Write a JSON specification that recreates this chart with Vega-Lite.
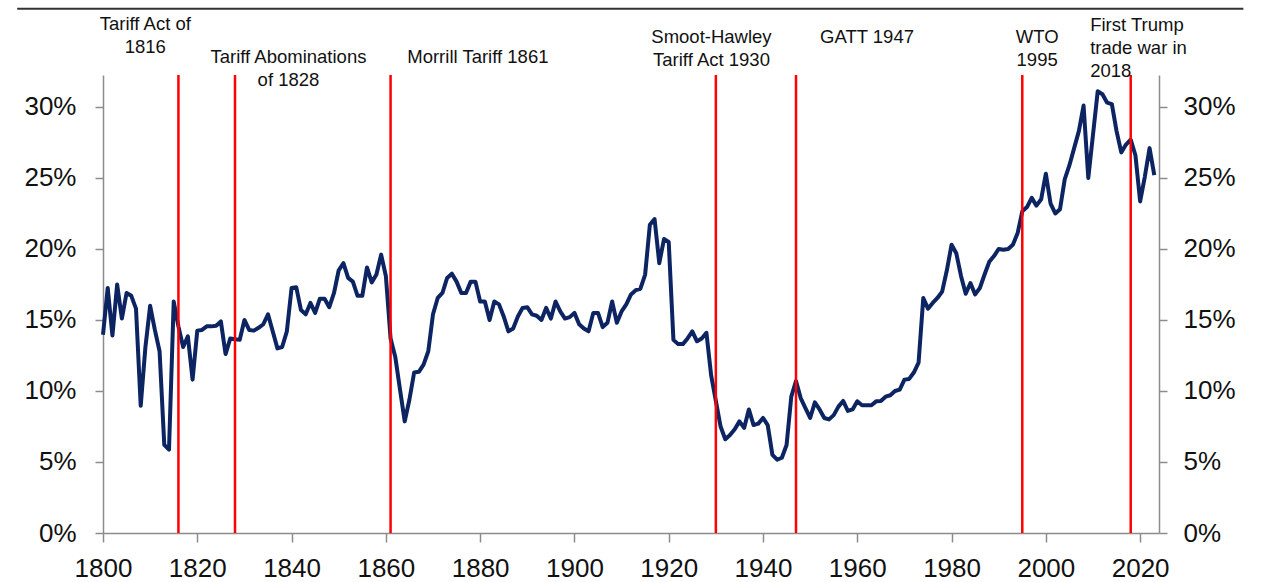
{
  "$schema": "https://vega.github.io/schema/vega-lite/v6.json",
  "width": 1056,
  "height": 458,
  "autosize": {"type": "none"},
  "padding": {"left": 103, "top": 75, "right": 107, "bottom": 49},
  "background": "white",
  "config": {
    "view": {"stroke": null},
    "font": "Liberation Sans",
    "axis": {
      "grid": false,
      "domainColor": "#8c8c8c",
      "domainWidth": 1.5,
      "tickColor": "#8c8c8c",
      "tickWidth": 1.5,
      "labelFont": "Liberation Sans",
      "labelFontSize": 26,
      "labelColor": "#111111",
      "labelFlush": false,
      "labelOverlap": false,
      "labelBound": false
    }
  },
  "datasets": {
    "series": [
      {"year":1800,"share":0.1396},{"year":1801,"share":0.1725},{"year":1802,"share":0.139},{"year":1803,"share":0.175},{"year":1804,"share":0.151},
      {"year":1805,"share":0.169},{"year":1806,"share":0.167},{"year":1807,"share":0.158},{"year":1808,"share":0.0896},{"year":1809,"share":0.131},
      {"year":1810,"share":0.160},{"year":1811,"share":0.143},{"year":1812,"share":0.128},{"year":1813,"share":0.062},{"year":1814,"share":0.0587},
      {"year":1815,"share":0.163},{"year":1816,"share":0.1455},{"year":1817,"share":0.131},{"year":1818,"share":0.1385},{"year":1819,"share":0.108},
      {"year":1820,"share":0.1425},{"year":1821,"share":0.143},{"year":1822,"share":0.1455},{"year":1823,"share":0.1455},{"year":1824,"share":0.146},
      {"year":1825,"share":0.149},{"year":1826,"share":0.126},{"year":1827,"share":0.137},{"year":1828,"share":0.1365},{"year":1829,"share":0.136},
      {"year":1830,"share":0.150},{"year":1831,"share":0.143},{"year":1832,"share":0.1425},{"year":1833,"share":0.1445},{"year":1834,"share":0.147},
      {"year":1835,"share":0.154},{"year":1836,"share":0.142},{"year":1837,"share":0.130},{"year":1838,"share":0.131},{"year":1839,"share":0.142},
      {"year":1840,"share":0.1725},{"year":1841,"share":0.173},{"year":1842,"share":0.157},{"year":1843,"share":0.154},{"year":1844,"share":0.162},
      {"year":1845,"share":0.155},{"year":1846,"share":0.165},{"year":1847,"share":0.165},{"year":1848,"share":0.159},{"year":1849,"share":0.169},
      {"year":1850,"share":0.185},{"year":1851,"share":0.190},{"year":1852,"share":0.1796},{"year":1853,"share":0.177},{"year":1854,"share":0.167},
      {"year":1855,"share":0.167},{"year":1856,"share":0.187},{"year":1857,"share":0.1765},{"year":1858,"share":0.182},{"year":1859,"share":0.196},
      {"year":1860,"share":0.181},{"year":1861,"share":0.137},{"year":1862,"share":0.124},{"year":1863,"share":0.101},{"year":1864,"share":0.0786},
      {"year":1865,"share":0.094},{"year":1866,"share":0.113},{"year":1867,"share":0.1135},{"year":1868,"share":0.1185},{"year":1869,"share":0.128},
      {"year":1870,"share":0.154},{"year":1871,"share":0.1655},{"year":1872,"share":0.169},{"year":1873,"share":0.1796},{"year":1874,"share":0.1826},
      {"year":1875,"share":0.177},{"year":1876,"share":0.169},{"year":1877,"share":0.169},{"year":1878,"share":0.177},{"year":1879,"share":0.177},
      {"year":1880,"share":0.163},{"year":1881,"share":0.163},{"year":1882,"share":0.150},{"year":1883,"share":0.163},{"year":1884,"share":0.161},
      {"year":1885,"share":0.1525},{"year":1886,"share":0.142},{"year":1887,"share":0.144},{"year":1888,"share":0.1525},{"year":1889,"share":0.1585},
      {"year":1890,"share":0.159},{"year":1891,"share":0.154},{"year":1892,"share":0.153},{"year":1893,"share":0.150},{"year":1894,"share":0.1585},
      {"year":1895,"share":0.151},{"year":1896,"share":0.163},{"year":1897,"share":0.156},{"year":1898,"share":0.151},{"year":1899,"share":0.152},
      {"year":1900,"share":0.155},{"year":1901,"share":0.147},{"year":1902,"share":0.144},{"year":1903,"share":0.142},{"year":1904,"share":0.155},
      {"year":1905,"share":0.155},{"year":1906,"share":0.145},{"year":1907,"share":0.148},{"year":1908,"share":0.163},{"year":1909,"share":0.148},
      {"year":1910,"share":0.156},{"year":1911,"share":0.161},{"year":1912,"share":0.168},{"year":1913,"share":0.171},{"year":1914,"share":0.172},
      {"year":1915,"share":0.182},{"year":1916,"share":0.217},{"year":1917,"share":0.221},{"year":1918,"share":0.190},{"year":1919,"share":0.207},
      {"year":1920,"share":0.205},{"year":1921,"share":0.136},{"year":1922,"share":0.133},{"year":1923,"share":0.133},{"year":1924,"share":0.137},
      {"year":1925,"share":0.142},{"year":1926,"share":0.135},{"year":1927,"share":0.137},{"year":1928,"share":0.141},{"year":1929,"share":0.111},
      {"year":1930,"share":0.093},{"year":1931,"share":0.075},{"year":1932,"share":0.066},{"year":1933,"share":0.069},{"year":1934,"share":0.073},
      {"year":1935,"share":0.0786},{"year":1936,"share":0.074},{"year":1937,"share":0.087},{"year":1938,"share":0.076},{"year":1939,"share":0.077},
      {"year":1940,"share":0.081},{"year":1941,"share":0.076},{"year":1942,"share":0.055},{"year":1943,"share":0.0516},{"year":1944,"share":0.053},
      {"year":1945,"share":0.062},{"year":1946,"share":0.096},{"year":1947,"share":0.107},{"year":1948,"share":0.095},{"year":1949,"share":0.088},
      {"year":1950,"share":0.081},{"year":1951,"share":0.092},{"year":1952,"share":0.087},{"year":1953,"share":0.081},{"year":1954,"share":0.080},
      {"year":1955,"share":0.083},{"year":1956,"share":0.089},{"year":1957,"share":0.093},{"year":1958,"share":0.086},{"year":1959,"share":0.087},
      {"year":1960,"share":0.0927},{"year":1961,"share":0.090},{"year":1962,"share":0.090},{"year":1963,"share":0.090},{"year":1964,"share":0.0927},
      {"year":1965,"share":0.093},{"year":1966,"share":0.096},{"year":1967,"share":0.097},{"year":1968,"share":0.100},{"year":1969,"share":0.101},
      {"year":1970,"share":0.108},{"year":1971,"share":0.1085},{"year":1972,"share":0.113},{"year":1973,"share":0.120},{"year":1974,"share":0.1655},
      {"year":1975,"share":0.158},{"year":1976,"share":0.162},{"year":1977,"share":0.1655},{"year":1978,"share":0.170},{"year":1979,"share":0.185},
      {"year":1980,"share":0.203},{"year":1981,"share":0.197},{"year":1982,"share":0.181},{"year":1983,"share":0.1685},{"year":1984,"share":0.176},
      {"year":1985,"share":0.168},{"year":1986,"share":0.1725},{"year":1987,"share":0.182},{"year":1988,"share":0.191},{"year":1989,"share":0.195},
      {"year":1990,"share":0.200},{"year":1991,"share":0.1995},{"year":1992,"share":0.200},{"year":1993,"share":0.203},{"year":1994,"share":0.211},
      {"year":1995,"share":0.2265},{"year":1996,"share":0.2295},{"year":1997,"share":0.236},{"year":1998,"share":0.2305},{"year":1999,"share":0.235},
      {"year":2000,"share":0.253},{"year":2001,"share":0.232},{"year":2002,"share":0.225},{"year":2003,"share":0.228},{"year":2004,"share":0.249},
      {"year":2005,"share":0.259},{"year":2006,"share":0.271},{"year":2007,"share":0.283},{"year":2008,"share":0.301},{"year":2009,"share":0.250},
      {"year":2010,"share":0.2805},{"year":2011,"share":0.311},{"year":2012,"share":0.309},{"year":2013,"share":0.303},{"year":2014,"share":0.302},
      {"year":2015,"share":0.283},{"year":2016,"share":0.268},{"year":2017,"share":0.2735},{"year":2018,"share":0.277},{"year":2019,"share":0.266},
      {"year":2020,"share":0.2335},{"year":2021,"share":0.251},{"year":2022,"share":0.271},{"year":2023,"share":0.252}
    ],
    "events": [
      {"year":1816,"event":"Tariff Act of 1816"},
      {"year":1828,"event":"Tariff Abominations of 1828"},
      {"year":1861,"event":"Morrill Tariff 1861"},
      {"year":1930,"event":"Smoot-Hawley Tariff Act 1930"},
      {"year":1947,"event":"GATT 1947"},
      {"year":1995,"event":"WTO 1995"},
      {"year":2018,"event":"First Trump trade war in 2018"}
    ],
    "labelsCentered": [
      {"text":"Tariff Act of\n1816","year":1808.98,"level":0.3539},
      {"text":"Tariff Abominations\nof 1828","year":1839.34,"level":0.3310},
      {"text":"Smoot-Hawley\nTariff Act 1930","year":1929.07,"level":0.3451},
      {"text":"GATT 1947","year":1962.06,"level":0.3451},
      {"text":"WTO\n1995","year":1998.15,"level":0.3451}
    ],
    "labelsLeft": [
      {"text":"Morrill Tariff 1861","year":1864.54,"level":0.3310},
      {"text":"First Trump\ntrade war in\n2018","year":2009.4,"level":0.3532}
    ]
  },
  "layer": [
    {
      "data": {"name": "series"},
      "mark": {"type": "line", "color": "#0c2461", "strokeWidth": 4, "strokeJoin": "round", "clip": false},
      "encoding": {
        "x": {
          "field": "year", "type": "quantitative", "title": null,
          "scale": {"domain": [1800, 2024], "nice": false, "zero": false},
          "axis": {"orient": "bottom", "values": [1800,1820,1840,1860,1880,1900,1920,1940,1960,1980,2000,2020], "format": "d", "tickSize": 9, "labelPadding": 13}
        },
        "y": {
          "field": "share", "type": "quantitative", "title": null,
          "scale": {"domain": [0, 0.3225], "nice": false, "zero": true},
          "axis": {"orient": "left", "values": [0,0.05,0.1,0.15,0.2,0.25,0.3], "format": ".0%", "tickSize": 8, "labelPadding": 19}
        }
      }
    },
    {
      "data": {"name": "events"},
      "mark": {"type": "rule", "color": "#ff0000", "strokeWidth": 2.5, "clip": false},
      "encoding": {
        "x": {"field": "year", "type": "quantitative", "title": null}
      }
    },
    {
      "data": {"name": "labelsCentered"},
      "mark": {"type": "text", "align": "center", "baseline": "alphabetic", "font": "Liberation Sans", "fontSize": 18.5, "lineHeight": 23, "lineBreak": "\n", "color": "#111111", "clip": false},
      "encoding": {
        "x": {"field": "year", "type": "quantitative", "title": null},
        "y": {"field": "level", "type": "quantitative", "title": null, "axis": null},
        "text": {"field": "text"}
      }
    },
    {
      "data": {"name": "labelsLeft"},
      "mark": {"type": "text", "align": "left", "baseline": "alphabetic", "font": "Liberation Sans", "fontSize": 18.5, "lineHeight": 23, "lineBreak": "\n", "color": "#111111", "clip": false},
      "encoding": {
        "x": {"field": "year", "type": "quantitative", "title": null},
        "y": {
          "field": "level", "type": "quantitative", "title": null,
          "axis": {"orient": "right", "values": [0,0.05,0.1,0.15,0.2,0.25,0.3], "format": ".0%", "tickSize": 8, "labelPadding": 16}
        },
        "text": {"field": "text"}
      }
    },
    {
      "data": {"values": [{}]},
      "mark": {"type": "rule", "color": "#333333", "strokeWidth": 2, "clip": false},
      "encoding": {
        "x": {"datum": 1781.8, "type": "quantitative"},
        "x2": {"datum": 2041.9},
        "y": {"datum": 0.3692, "type": "quantitative", "axis": null}
      }
    }
  ],
  "resolve": {"axis": {"y": "independent"}}
}
